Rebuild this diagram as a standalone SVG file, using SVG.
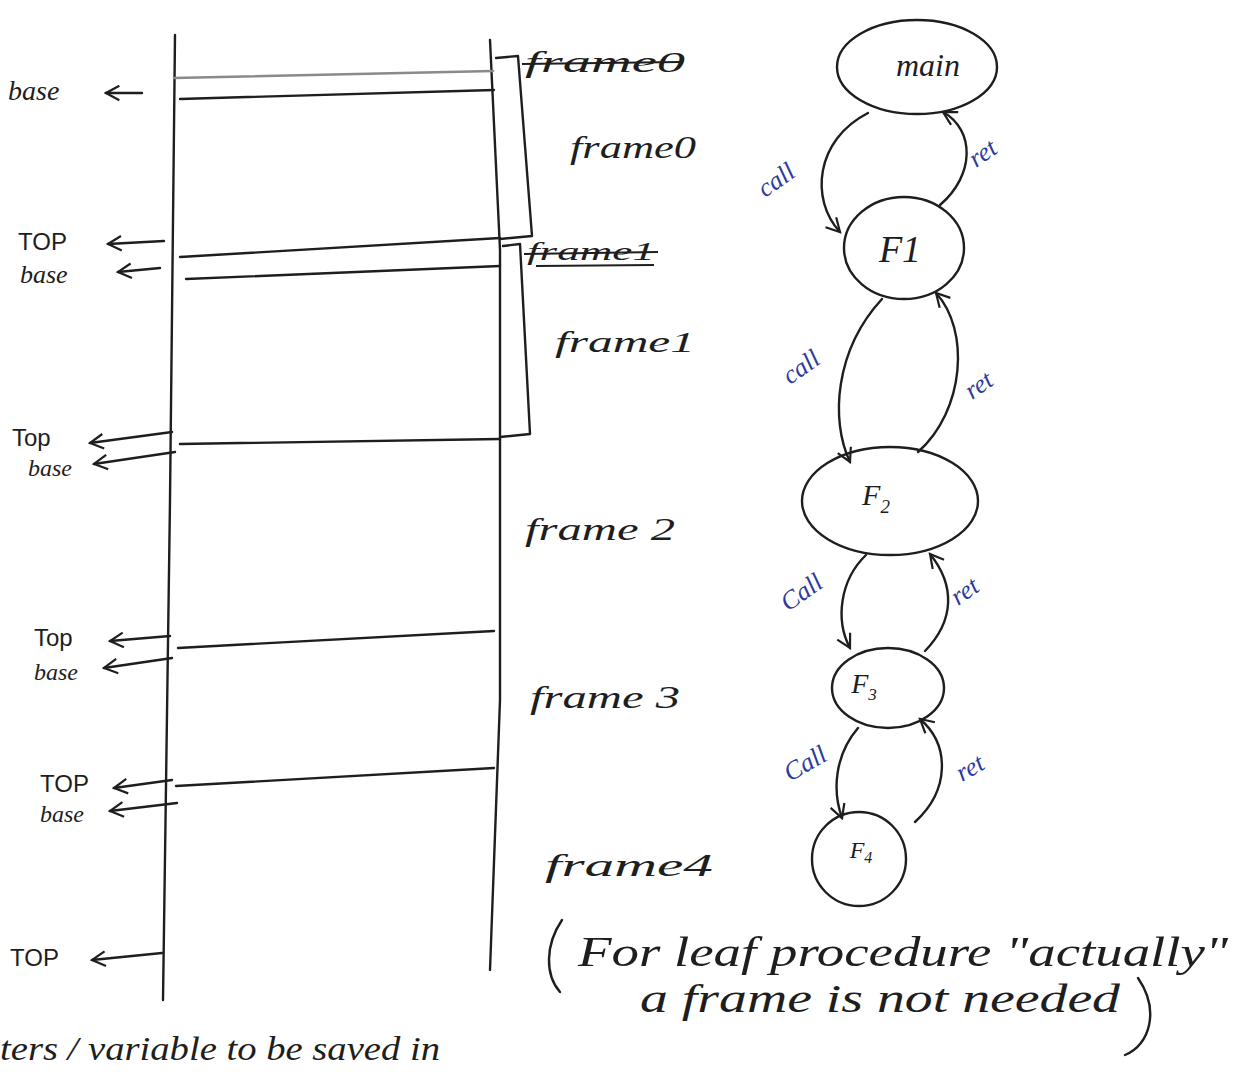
<svg xmlns="http://www.w3.org/2000/svg" width="1244" height="1072" viewBox="0 0 1244 1072">
  <style>
    .ink { fill: none; stroke: #1e1e1e; stroke-width: 2.4; stroke-linecap: round; stroke-linejoin: round; }
    .faint { stroke: #8a8a8a; }
    .lbl { font-family: "Liberation Sans", "DejaVu Sans", sans-serif; fill: #1e1e1e; }
    .hand { font-family: "Liberation Serif", "DejaVu Serif", serif; font-style: italic; fill: #1e1e1e; }
    .blue { font-family: "Liberation Serif", "DejaVu Serif", serif; font-style: italic; fill: #2b3a9c; font-size: 26px; }
    .node { fill: none; stroke: #1e1e1e; stroke-width: 2.4; }
    .strike { stroke: #1e1e1e; stroke-width: 2.2; }
  </style>
  <defs>
    <marker id="tip" viewBox="0 0 14 14" refX="12" refY="7" markerWidth="17" markerHeight="17" markerUnits="userSpaceOnUse" orient="auto">
      <path d="M1,1 L12,7 L1,13" fill="none" stroke="#1e1e1e" stroke-width="1.8"/>
    </marker>
  </defs>

  <rect width="1244" height="1072" fill="#ffffff"/>

  <!-- stack: column walls and frame boundaries -->
  <g id="stack">
    <path class="ink" d="M175,35 L170,500 L163,1000"/>
    <path class="ink" d="M490,40 L500,250 L500,700 L490,970"/>
    <path class="ink faint" d="M174,78 L493,71"/>
    <path class="ink" d="M180,99 L494,90"/>
    <path class="ink" d="M180,257 L500,238"/>
    <path class="ink" d="M186,279 L500,266"/>
    <path class="ink" d="M180,444 L500,439"/>
    <path class="ink" d="M178,648 L494,631"/>
    <path class="ink" d="M176,786 L494,768"/>
  </g>

  <!-- brackets marking the extent of frame0 and frame1 -->
  <g id="brackets">
    <path class="ink" d="M496,58 L518,56 L532,236 L500,239"/>
    <path class="ink" d="M503,246 L520,244 L530,434 L500,437"/>
  </g>

  <!-- pointers on the left of the stack -->
  <g id="pointers">
    <text class="hand" x="8" y="100" font-size="28">base</text>
    <path class="ink" d="M142,93 L106,93" marker-end="url(#tip)"/>
    <text class="lbl" x="18" y="250" font-size="24">TOP</text>
    <path class="ink" d="M164,241 L108,244" marker-end="url(#tip)"/>
    <text class="hand" x="20" y="283" font-size="26">base</text>
    <path class="ink" d="M160,268 L118,272" marker-end="url(#tip)"/>
    <text class="lbl" x="12" y="446" font-size="24">Top</text>
    <path class="ink" d="M172,432 L90,443" marker-end="url(#tip)"/>
    <text class="hand" x="28" y="476" font-size="24">base</text>
    <path class="ink" d="M175,452 L94,464" marker-end="url(#tip)"/>
    <text class="lbl" x="34" y="646" font-size="24">Top</text>
    <path class="ink" d="M170,636 L110,641" marker-end="url(#tip)"/>
    <text class="hand" x="34" y="680" font-size="24">base</text>
    <path class="ink" d="M172,658 L104,668" marker-end="url(#tip)"/>
    <text class="lbl" x="40" y="792" font-size="24">TOP</text>
    <path class="ink" d="M172,780 L114,788" marker-end="url(#tip)"/>
    <text class="hand" x="40" y="822" font-size="24">base</text>
    <path class="ink" d="M177,803 L110,811" marker-end="url(#tip)"/>
    <text class="lbl" x="10" y="966" font-size="24">TOP</text>
    <path class="ink" d="M162,953 L92,960" marker-end="url(#tip)"/>
  </g>

  <!-- frame names -->
  <g id="frame-labels">
    <text class="hand" x="525" y="72" font-size="30" textLength="160" lengthAdjust="spacingAndGlyphs">frame0</text>
    <line class="strike" x1="522" y1="64" x2="680" y2="62"/>
    <text class="hand" x="570" y="158" font-size="32" textLength="126" lengthAdjust="spacingAndGlyphs">frame0</text>
    <text class="hand" x="527" y="260" font-size="26" textLength="128" lengthAdjust="spacingAndGlyphs">frame1</text>
    <line class="strike" x1="524" y1="254" x2="658" y2="252"/>
    <line class="strike" x1="536" y1="266" x2="654" y2="265"/>
    <text class="hand" x="555" y="352" font-size="30" textLength="140" lengthAdjust="spacingAndGlyphs">frame1</text>
    <text class="hand" x="525" y="540" font-size="32" textLength="150" lengthAdjust="spacingAndGlyphs">frame 2</text>
    <text class="hand" x="530" y="708" font-size="32" textLength="150" lengthAdjust="spacingAndGlyphs">frame 3</text>
    <text class="hand" x="545" y="876" font-size="32" textLength="168" lengthAdjust="spacingAndGlyphs">frame4</text>
  </g>

  <!-- call graph nodes -->
  <g id="node-main">
    <ellipse class="node" cx="917" cy="67" rx="80" ry="47"/>
    <text class="hand" x="928" y="76" font-size="32" text-anchor="middle">main</text>
  </g>
  <g id="node-f1">
    <ellipse class="node" cx="904" cy="248" rx="60" ry="51"/>
    <text class="hand" x="900" y="262" font-size="38" text-anchor="middle">F1</text>
  </g>
  <g id="node-f2">
    <ellipse class="node" cx="890" cy="501" rx="88" ry="54"/>
    <text class="hand" x="876" y="505" font-size="30" text-anchor="middle">F<tspan font-size="19" dy="8">2</tspan></text>
  </g>
  <g id="node-f3">
    <ellipse class="node" cx="888" cy="688" rx="56" ry="40"/>
    <text class="hand" x="864" y="693" font-size="28" text-anchor="middle">F<tspan font-size="17" dy="7">3</tspan></text>
  </g>
  <g id="node-f4">
    <ellipse class="node" cx="859" cy="859" rx="47" ry="47"/>
    <text class="hand" x="861" y="858" font-size="24" text-anchor="middle">F<tspan font-size="16" dy="5">4</tspan></text>
  </g>

  <!-- call / return edges -->
  <g id="connectors">
    <path class="ink" d="M868,113 C815,140 810,200 840,232" marker-end="url(#tip)"/>
    <path class="ink" d="M940,205 C975,175 975,130 943,112" marker-end="url(#tip)"/>
    <path class="ink" d="M882,299 C835,350 830,420 850,462" marker-end="url(#tip)"/>
    <path class="ink" d="M918,452 C965,410 970,330 936,293" marker-end="url(#tip)"/>
    <path class="ink" d="M866,555 C840,580 835,620 850,648" marker-end="url(#tip)"/>
    <path class="ink" d="M925,651 C955,620 955,585 930,554" marker-end="url(#tip)"/>
    <path class="ink" d="M858,728 C835,755 832,790 842,818" marker-end="url(#tip)"/>
    <path class="ink" d="M915,822 C950,790 950,745 920,719" marker-end="url(#tip)"/>

    <text class="blue" transform="translate(765,198) rotate(-35)">call</text>
    <text class="blue" transform="translate(976,168) rotate(-35)">ret</text>
    <text class="blue" transform="translate(790,385) rotate(-35)">call</text>
    <text class="blue" transform="translate(972,400) rotate(-35)">ret</text>
    <text class="blue" transform="translate(788,612) rotate(-35)">Call</text>
    <text class="blue" transform="translate(958,606) rotate(-35)">ret</text>
    <text class="blue" transform="translate(790,782) rotate(-30)">Call</text>
    <text class="blue" transform="translate(962,782) rotate(-30)">ret</text>
  </g>

  <!-- note about leaf procedures -->
  <g id="note">
    <path class="ink" d="M562,920 C545,945 545,975 560,992"/>
    <text class="hand" x="578" y="966" font-size="42" textLength="650" lengthAdjust="spacingAndGlyphs">For leaf procedure "actually"</text>
    <text class="hand" x="640" y="1012" font-size="40" textLength="480" lengthAdjust="spacingAndGlyphs">a frame is not needed</text>
    <path class="ink" d="M1138,978 C1160,1010 1150,1045 1125,1055"/>
  </g>

  <!-- text running along the lower edge -->
  <text class="hand" x="0" y="1060" font-size="34" textLength="440" lengthAdjust="spacingAndGlyphs">ters / variable to be saved in</text>
</svg>
